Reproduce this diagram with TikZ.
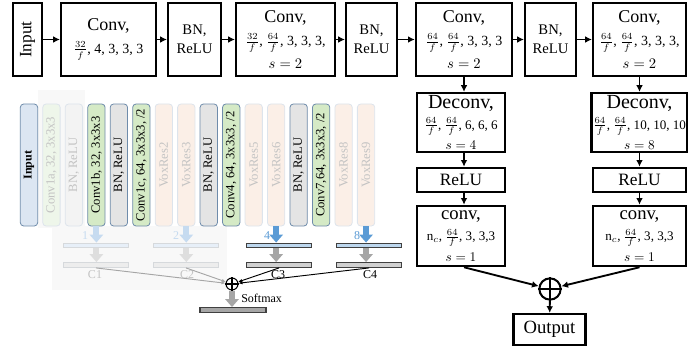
\documentclass[tikz,border=0pt]{standalone}
\usepackage{fontspec}
\setmainfont{Liberation Serif}
\usetikzlibrary{arrows.meta}
\definecolor{VxEdge}{HTML}{6F8CAB}
\definecolor{VxEdgeF}{HTML}{DDE4EC}
\definecolor{VxIn}{HTML}{DCE6F2}
\definecolor{VxGreen}{HTML}{D5EAC6}
\definecolor{VxGreenF}{HTML}{EEF6EA}
\definecolor{VxGrey}{HTML}{E4E4E4}
\definecolor{VxGreyF}{HTML}{F3F3F3}
\definecolor{VxPeachF}{HTML}{FBEFE7}
\definecolor{VxTextF}{HTML}{C3C3C3}
\definecolor{VxBg}{HTML}{F8F8F8}
\definecolor{MapBlue}{HTML}{BDD7EE}
\definecolor{MapBlueF}{HTML}{E7EFF8}
\definecolor{MapGrey}{HTML}{D0D0D0}
\definecolor{MapGreyF}{HTML}{EDEDED}
\definecolor{MapEdge}{HTML}{404040}
\definecolor{MapEdgeF}{HTML}{D6D9DC}
\definecolor{ArrBlue}{HTML}{5B9BD5}
\definecolor{ArrBlueF}{HTML}{C6DBF0}
\definecolor{ArrGrey}{HTML}{A6A6A6}
\definecolor{ArrGreyF}{HTML}{DEDEDE}
\newcommand{\headsz}{\fontsize{13.5}{17}\selectfont}
\newcommand{\parsz}{\fontsize{10.5}{17}\selectfont}
\newcommand{\fr}[1]{$\frac{#1}{f}$}

\begin{document}
\begin{tikzpicture}[x=0.75pt,y=-0.75pt,
  blk/.style={draw,line width=1.9pt,align=center,inner sep=1pt,font=\fontsize{10.5}{17}\selectfont},
  upblk/.style={blk,font=\fontsize{9.8}{15.5}\selectfont},
  arr/.style={line width=1.4pt,-{Latex[length=5pt,width=5pt]}},
  thin arr/.style={line width=0.7pt,-{Latex[length=3pt,width=2.5pt]}},
  fat/.style={line width=4.5pt,-{Triangle[length=6pt,width=10pt]}},
  bnbox/.style={blk,font=\fontsize{11}{14}\selectfont},
  vcol/.style={draw=VxEdge,line width=0.6pt,rounded corners=2.5pt,rotate=90,
    minimum width=91.5pt,minimum height=13pt,inner sep=0pt,
    font=\fontsize{9.5}{10}\selectfont},
  vin/.style={fill=VxIn,font=\fontsize{9}{10}\selectfont\bfseries},
  vgreen/.style={fill=VxGreen},
  vgrey/.style={fill=VxGrey},
  vgreenf/.style={fill=VxGreenF,draw=VxEdgeF,text=VxTextF},
  vgreyf/.style={fill=VxGreyF,draw=VxEdgeF,text=VxTextF},
  vpeachf/.style={fill=VxPeachF,draw=VxEdgeF,text=VxTextF},
  bar/.style={draw=MapEdge,line width=0.8pt,minimum width=48.5pt,minimum height=3.6pt,inner sep=0pt},
  lbl/.style={inner sep=0pt,font=\fontsize{9}{10}\selectfont}]
\useasboundingbox (0,0) rectangle (688,349);

% top row
\node[blk,minimum width=54.5pt,minimum height=21.5pt,rotate=90,font=\fontsize{13}{15}\selectfont] (inp) at (27.5,39.5) {Input};
\node[blk,minimum width=71pt,minimum height=54.5pt] (conv1) at (108.5,39.5) {\headsz Conv,\\ \parsz \fr{32}, 4, 3, 3, 3};
\node[bnbox,minimum width=39.5pt,minimum height=54.5pt] (bn1) at (194.5,39.5) {BN,\\ReLU};
\node[blk,minimum width=74pt,minimum height=54.5pt] (conv2) at (285.5,39.5) {\headsz Conv,\\ \parsz \fr{32}, \fr{64}, 3, 3, 3,\\ \parsz $s=2$};
\node[bnbox,minimum width=38pt,minimum height=54.5pt] (bn2) at (371.5,39.5) {BN,\\ReLU};
\node[blk,minimum width=72pt,minimum height=54.5pt] (conv3) at (464,39.5) {\headsz Conv,\\ \parsz \fr{64}, \fr{64}, 3, 3, 3\\ \parsz $s=2$};
\node[bnbox,minimum width=38pt,minimum height=54.5pt] (bn3) at (550.5,39.5) {BN,\\ReLU};
\node[blk,minimum width=69.5pt,minimum height=54.5pt] (conv4) at (639.5,39.5) {\headsz Conv,\\ \parsz \fr{64}, \fr{64}, 3, 3, 3,\\ \parsz $s=2$};
\draw[arr] (inp) -- (conv1);
\draw[arr] (conv1) -- (bn1);
\draw[arr] (bn1) -- (conv2);
\draw[arr] (conv2) -- (bn2);
\draw[arr] (bn2) -- (conv3);
\draw[arr] (conv3) -- (bn3);
\draw[arr] (bn3) -- (conv4);

% two upsampling branches
\node[upblk,minimum width=66pt,minimum height=44pt] (deconvA) at (461,122.5) {\fontsize{15}{15}\selectfont Deconv,\\ \fr{64}, \fr{64}, 6, 6, 6\\ $s=4$};
\node[blk,minimum width=66pt,minimum height=18pt,font=\fontsize{13}{15}\selectfont] (reluA) at (461,180) {ReLU};
\node[upblk,minimum width=66pt,minimum height=45pt] (convA) at (461,236) {\fontsize{14}{15}\selectfont conv,\\ $\mathrm{n}_c$, \fr{64}, 3, 3,3\\ $s=1$};
\node[upblk,minimum width=69.5pt,minimum height=44pt] (deconvB) at (639.5,122.5) {\fontsize{15}{15}\selectfont Deconv,\\ \fr{64}, \fr{64}, 10, 10, 10\\ $s=8$};
\node[blk,minimum width=69.5pt,minimum height=18pt,font=\fontsize{13}{15}\selectfont] (reluB) at (639.5,180) {ReLU};
\node[upblk,minimum width=69.5pt,minimum height=45pt] (convB) at (639.5,236) {\fontsize{14}{15}\selectfont conv,\\ $\mathrm{n}_c$, \fr{64}, 3, 3,3\\ $s=1$};
\node[draw,circle,line width=1.5pt,minimum size=16pt,inner sep=0pt] (sum) at (550,289) {};
\draw[line width=1.5pt] (sum.north) -- (sum.south) (sum.west) -- (sum.east);
\node[blk,minimum width=54pt,minimum height=23pt,font=\fontsize{14}{15}\selectfont] (out) at (549.5,329.5) {Output};
\draw[arr] (conv3.south) -- (conv3.south |- deconvA.north);
\draw[arr] (deconvA.south -| conv3) -- (reluA.north -| conv3);
\draw[arr] (reluA.south -| conv3) -- (convA.north -| conv3);
\draw[arr] (convA.south -| conv3) -- (sum);
\draw[arr] (conv4) -- (deconvB);
\draw[arr] (deconvB) -- (reluB);
\draw[arr] (reluB) -- (convB);
\draw[arr] (convB.south) -- (sum);
\draw[arr] (sum) -- (out);

% VoxResNet panel
\fill[VxBg] (38,90) rectangle (85,228);
\fill[VxBg] (52,226) rectangle (227,290);
\foreach \i/\lab/\sty in {1/Input/vin,2/{Conv1a, 32, 3x3x3}/vgreenf,3/{BN, ReLU}/vgreyf,
  4/{Conv1b, 32, 3x3x3}/vgreen,5/{BN, ReLU}/vgrey,6/{Conv1c, 64, 3x3x3, /2}/vgreen,
  7/VoxRes2/vpeachf,8/VoxRes3/vpeachf,9/{BN, ReLU}/vgrey,10/{Conv4, 64, 3x3x3, /2}/vgreen,
  11/VoxRes5/vpeachf,12/VoxRes6/vpeachf,13/{BN, ReLU}/vgrey,14/{Conv7,64, 3x3x3, /2}/vgreen,
  15/VoxRes8/vpeachf,16/VoxRes9/vpeachf}
  \node[vcol,\sty] (v\i) at ({29+22.47*(\i-1)},165) {\lab};

\node[bar,fill=MapBlueF,draw=MapEdgeF] (up1) at (96,245.5) {};
\node[bar,fill=MapBlueF,draw=MapEdgeF] (up2) at (186,245.5) {};
\node[bar,fill=MapBlue] (up3) at (279,245.5) {};
\node[bar,fill=MapBlue] (up4) at (369,245.5) {};
\node[bar,fill=MapGreyF,draw=MapEdgeF] (cls1) at (96,265) {};
\node[bar,fill=MapGreyF,draw=MapEdgeF] (cls2) at (186,265) {};
\node[bar,fill=MapGrey] (cls3) at (279,265) {};
\node[bar,fill=MapGrey] (cls4) at (369,265) {};
\draw[fat,ArrBlueF] (v4.west) -- (v4.west |- up1.north);
\draw[fat,ArrBlueF] (v8.west) -- (v8.west |- up2.north);
\draw[fat,ArrBlue] (v12.west) -- (v12.west |- up3.north);
\draw[fat,ArrBlue] (v16.west) -- (v16.west |- up4.north);
\node[lbl,text=ArrBlueF] (n1) at (85,236) {1};
\node[lbl,text=ArrBlueF] (n2) at (176,236) {2};
\node[lbl,text=ArrBlue] (n3) at (267,236) {4};
\node[lbl,text=ArrBlue] (n4) at (357,236) {8};
\draw[fat,ArrGreyF] (up1.south -| v4) -- (cls1.north -| v4);
\draw[fat,ArrGreyF] (up2.south -| v8) -- (cls2.north -| v8);
\draw[fat,ArrGrey] (up3.south -| v12) -- (cls3.north -| v12);
\draw[fat,ArrGrey] (up4.south -| v16) -- (cls4.north -| v16);
\node[lbl,text=VxTextF] (c1) at (95,275) {C1};
\node[lbl,text=VxTextF] (c2) at (187,275) {C2};
\node[lbl] (c3) at (278,275) {C3};
\node[lbl] (c4) at (370,275) {C4};
\node[draw,circle,line width=0.8pt,minimum size=9pt,inner sep=0pt] (lsum) at (232,284) {};
\draw[line width=0.8pt] (lsum.north) -- (lsum.south) (lsum.west) -- (lsum.east);
\draw[thin arr,ArrGrey] (cls1.south) -- (lsum);
\draw[thin arr,ArrGrey] (cls2.south) -- (lsum);
\draw[thin arr] (cls3.south) -- (lsum);
\draw[thin arr] (cls4.south) -- (lsum);
\node[bar,fill=ArrGrey,minimum width=49.5pt] (fin) at (233,310) {};
\draw[fat,ArrGrey] (lsum.south) -- (lsum.south |- fin.north);
\node[lbl,anchor=west] (soft) at (241,298) {Softmax};
\end{tikzpicture}
\end{document}
